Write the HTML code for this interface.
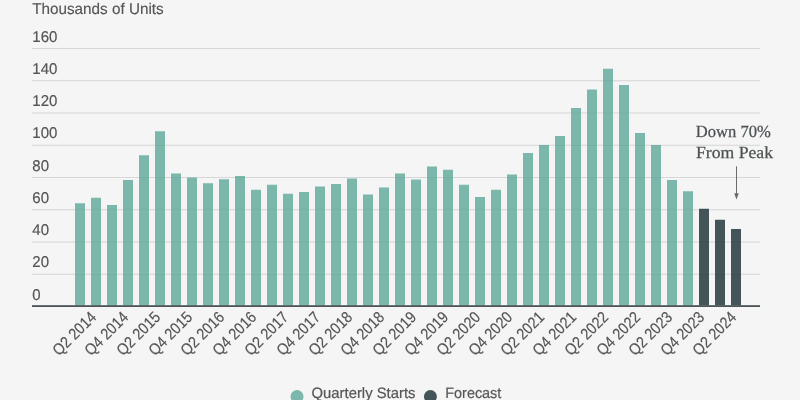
<!DOCTYPE html>
<html><head><meta charset="utf-8"><style>
html,body{margin:0;padding:0;background:#f5f5f5;width:800px;height:400px;overflow:hidden}
svg{display:block;will-change:transform}
text{font-family:"Liberation Sans",sans-serif;fill:#555555;text-rendering:geometricPrecision}
.yl{font-size:15.6px;stroke:#555555;stroke-width:0.2px}
.xl{font-size:16px;stroke:#555555;stroke-width:0.18px}
.tt{font-size:15.5px;stroke:#555555;stroke-width:0.15px}
.lg{font-size:15px;stroke:#555555;stroke-width:0.2px}
.an{font-family:"Liberation Serif",serif;font-size:17px;fill:#4b5152;stroke:#4b5152;stroke-width:0.25px}
</style></head><body>
<svg width="800" height="400" viewBox="0 0 800 400">
<rect x="32" y="273.75" width="728" height="1" fill="#e0e0e0"/>
<rect x="32" y="241.50" width="728" height="1" fill="#e0e0e0"/>
<rect x="32" y="209.25" width="728" height="1" fill="#e0e0e0"/>
<rect x="32" y="177.00" width="728" height="1" fill="#e0e0e0"/>
<rect x="32" y="144.75" width="728" height="1" fill="#e0e0e0"/>
<rect x="32" y="112.50" width="728" height="1" fill="#e0e0e0"/>
<rect x="32" y="80.25" width="728" height="1" fill="#e0e0e0"/>
<rect x="32" y="48.00" width="728" height="1" fill="#e0e0e0"/>
<rect x="75.00" y="203.25" width="10.0" height="102.25" fill="#7bb8ab"/>
<rect x="91.00" y="197.75" width="10.0" height="107.75" fill="#7bb8ab"/>
<rect x="107.00" y="205.00" width="10.0" height="100.50" fill="#7bb8ab"/>
<rect x="123.00" y="180.00" width="10.0" height="125.50" fill="#7bb8ab"/>
<rect x="139.00" y="155.25" width="10.0" height="150.25" fill="#7bb8ab"/>
<rect x="155.00" y="131.25" width="10.0" height="174.25" fill="#7bb8ab"/>
<rect x="171.00" y="173.50" width="10.0" height="132.00" fill="#7bb8ab"/>
<rect x="187.00" y="177.50" width="10.0" height="128.00" fill="#7bb8ab"/>
<rect x="203.00" y="183.25" width="10.0" height="122.25" fill="#7bb8ab"/>
<rect x="219.00" y="179.25" width="10.0" height="126.25" fill="#7bb8ab"/>
<rect x="235.00" y="176.00" width="10.0" height="129.50" fill="#7bb8ab"/>
<rect x="251.00" y="189.75" width="10.0" height="115.75" fill="#7bb8ab"/>
<rect x="267.00" y="184.75" width="10.0" height="120.75" fill="#7bb8ab"/>
<rect x="283.00" y="193.75" width="10.0" height="111.75" fill="#7bb8ab"/>
<rect x="299.00" y="192.00" width="10.0" height="113.50" fill="#7bb8ab"/>
<rect x="315.00" y="186.50" width="10.0" height="119.00" fill="#7bb8ab"/>
<rect x="331.00" y="184.00" width="10.0" height="121.50" fill="#7bb8ab"/>
<rect x="347.00" y="178.50" width="10.0" height="127.00" fill="#7bb8ab"/>
<rect x="363.00" y="194.50" width="10.0" height="111.00" fill="#7bb8ab"/>
<rect x="379.00" y="187.50" width="10.0" height="118.00" fill="#7bb8ab"/>
<rect x="395.00" y="173.50" width="10.0" height="132.00" fill="#7bb8ab"/>
<rect x="411.00" y="179.50" width="10.0" height="126.00" fill="#7bb8ab"/>
<rect x="427.00" y="166.50" width="10.0" height="139.00" fill="#7bb8ab"/>
<rect x="443.00" y="169.75" width="10.0" height="135.75" fill="#7bb8ab"/>
<rect x="459.00" y="184.75" width="10.0" height="120.75" fill="#7bb8ab"/>
<rect x="475.00" y="197.00" width="10.0" height="108.50" fill="#7bb8ab"/>
<rect x="491.00" y="189.75" width="10.0" height="115.75" fill="#7bb8ab"/>
<rect x="507.00" y="174.50" width="10.0" height="131.00" fill="#7bb8ab"/>
<rect x="523.00" y="153.00" width="10.0" height="152.50" fill="#7bb8ab"/>
<rect x="539.00" y="145.00" width="10.0" height="160.50" fill="#7bb8ab"/>
<rect x="555.00" y="136.00" width="10.0" height="169.50" fill="#7bb8ab"/>
<rect x="571.00" y="108.00" width="10.0" height="197.50" fill="#7bb8ab"/>
<rect x="587.00" y="89.50" width="10.0" height="216.00" fill="#7bb8ab"/>
<rect x="603.00" y="68.75" width="10.0" height="236.75" fill="#7bb8ab"/>
<rect x="619.00" y="85.00" width="10.0" height="220.50" fill="#7bb8ab"/>
<rect x="635.00" y="133.00" width="10.0" height="172.50" fill="#7bb8ab"/>
<rect x="651.00" y="145.00" width="10.0" height="160.50" fill="#7bb8ab"/>
<rect x="667.00" y="180.00" width="10.0" height="125.50" fill="#7bb8ab"/>
<rect x="683.00" y="191.25" width="10.0" height="114.25" fill="#7bb8ab"/>
<rect x="699.00" y="208.75" width="10.0" height="96.75" fill="#435558"/>
<rect x="715.00" y="219.75" width="10.0" height="85.75" fill="#435558"/>
<rect x="731.00" y="229.00" width="10.0" height="76.50" fill="#435558"/>
<rect x="32" y="273.75" width="728" height="1" fill="#000" fill-opacity="0.045"/>
<rect x="32" y="241.50" width="728" height="1" fill="#000" fill-opacity="0.045"/>
<rect x="32" y="209.25" width="728" height="1" fill="#000" fill-opacity="0.045"/>
<rect x="32" y="177.00" width="728" height="1" fill="#000" fill-opacity="0.045"/>
<rect x="32" y="144.75" width="728" height="1" fill="#000" fill-opacity="0.045"/>
<rect x="32" y="112.50" width="728" height="1" fill="#000" fill-opacity="0.045"/>
<rect x="32" y="80.25" width="728" height="1" fill="#000" fill-opacity="0.045"/>
<rect x="32" y="48.00" width="728" height="1" fill="#000" fill-opacity="0.045"/>
<rect x="32" y="305.2" width="728" height="1.8" fill="#4a5355"/>
<text x="32.3" y="299.70" textLength="8.34" lengthAdjust="spacingAndGlyphs" class="yl">0</text>
<text x="32.3" y="267.45" textLength="16.68" lengthAdjust="spacingAndGlyphs" class="yl">20</text>
<text x="32.3" y="235.20" textLength="16.68" lengthAdjust="spacingAndGlyphs" class="yl">40</text>
<text x="32.3" y="202.95" textLength="16.68" lengthAdjust="spacingAndGlyphs" class="yl">60</text>
<text x="32.3" y="170.70" textLength="16.68" lengthAdjust="spacingAndGlyphs" class="yl">80</text>
<text x="32.3" y="138.45" textLength="25.02" lengthAdjust="spacingAndGlyphs" class="yl">100</text>
<text x="32.3" y="106.20" textLength="25.02" lengthAdjust="spacingAndGlyphs" class="yl">120</text>
<text x="32.3" y="73.95" textLength="25.02" lengthAdjust="spacingAndGlyphs" class="yl">140</text>
<text x="32.3" y="41.70" textLength="25.02" lengthAdjust="spacingAndGlyphs" class="yl">160</text>
<text transform="translate(97.20,318.30) rotate(-45)" text-anchor="end" textLength="54" lengthAdjust="spacingAndGlyphs" class="xl">Q2 2014</text>
<text transform="translate(129.20,318.30) rotate(-45)" text-anchor="end" textLength="54" lengthAdjust="spacingAndGlyphs" class="xl">Q4 2014</text>
<text transform="translate(161.20,318.30) rotate(-45)" text-anchor="end" textLength="54" lengthAdjust="spacingAndGlyphs" class="xl">Q2 2015</text>
<text transform="translate(193.20,318.30) rotate(-45)" text-anchor="end" textLength="54" lengthAdjust="spacingAndGlyphs" class="xl">Q4 2015</text>
<text transform="translate(225.20,318.30) rotate(-45)" text-anchor="end" textLength="54" lengthAdjust="spacingAndGlyphs" class="xl">Q2 2016</text>
<text transform="translate(257.20,318.30) rotate(-45)" text-anchor="end" textLength="54" lengthAdjust="spacingAndGlyphs" class="xl">Q4 2016</text>
<text transform="translate(289.20,318.30) rotate(-45)" text-anchor="end" textLength="54" lengthAdjust="spacingAndGlyphs" class="xl">Q2 2017</text>
<text transform="translate(321.20,318.30) rotate(-45)" text-anchor="end" textLength="54" lengthAdjust="spacingAndGlyphs" class="xl">Q4 2017</text>
<text transform="translate(353.20,318.30) rotate(-45)" text-anchor="end" textLength="54" lengthAdjust="spacingAndGlyphs" class="xl">Q2 2018</text>
<text transform="translate(385.20,318.30) rotate(-45)" text-anchor="end" textLength="54" lengthAdjust="spacingAndGlyphs" class="xl">Q4 2018</text>
<text transform="translate(417.20,318.30) rotate(-45)" text-anchor="end" textLength="54" lengthAdjust="spacingAndGlyphs" class="xl">Q2 2019</text>
<text transform="translate(449.20,318.30) rotate(-45)" text-anchor="end" textLength="54" lengthAdjust="spacingAndGlyphs" class="xl">Q4 2019</text>
<text transform="translate(481.20,318.30) rotate(-45)" text-anchor="end" textLength="54" lengthAdjust="spacingAndGlyphs" class="xl">Q2 2020</text>
<text transform="translate(513.20,318.30) rotate(-45)" text-anchor="end" textLength="54" lengthAdjust="spacingAndGlyphs" class="xl">Q4 2020</text>
<text transform="translate(545.20,318.30) rotate(-45)" text-anchor="end" textLength="54" lengthAdjust="spacingAndGlyphs" class="xl">Q2 2021</text>
<text transform="translate(577.20,318.30) rotate(-45)" text-anchor="end" textLength="54" lengthAdjust="spacingAndGlyphs" class="xl">Q4 2021</text>
<text transform="translate(609.20,318.30) rotate(-45)" text-anchor="end" textLength="54" lengthAdjust="spacingAndGlyphs" class="xl">Q2 2022</text>
<text transform="translate(641.20,318.30) rotate(-45)" text-anchor="end" textLength="54" lengthAdjust="spacingAndGlyphs" class="xl">Q4 2022</text>
<text transform="translate(673.20,318.30) rotate(-45)" text-anchor="end" textLength="54" lengthAdjust="spacingAndGlyphs" class="xl">Q2 2023</text>
<text transform="translate(705.20,318.30) rotate(-45)" text-anchor="end" textLength="54" lengthAdjust="spacingAndGlyphs" class="xl">Q4 2023</text>
<text transform="translate(737.20,318.30) rotate(-45)" text-anchor="end" textLength="54" lengthAdjust="spacingAndGlyphs" class="xl">Q2 2024</text>
<text x="695.8" y="136.6" textLength="75" lengthAdjust="spacingAndGlyphs" class="an">Down 70%</text>
<text x="696" y="157.6" textLength="77" lengthAdjust="spacingAndGlyphs" class="an">From Peak</text>
<path d="M736.5 166.3 V195" stroke="#6a6a6a" stroke-width="1" fill="none"/>
<path d="M734.2 193.2 L736.5 199.5 L738.8 193.2 Z" fill="#6a6a6a"/>
<text x="32.2" y="13.9" textLength="131.5" lengthAdjust="spacingAndGlyphs" class="tt">Thousands of Units</text>
<circle cx="297" cy="396.5" r="6.5" fill="#7bb8ab"/>
<text x="311.5" y="397.6" textLength="104" lengthAdjust="spacingAndGlyphs" class="lg">Quarterly Starts</text>
<circle cx="430.4" cy="396.5" r="6.5" fill="#435558"/>
<text x="445.3" y="397.6" textLength="56" lengthAdjust="spacingAndGlyphs" class="lg">Forecast</text>
</svg>
</body></html>
